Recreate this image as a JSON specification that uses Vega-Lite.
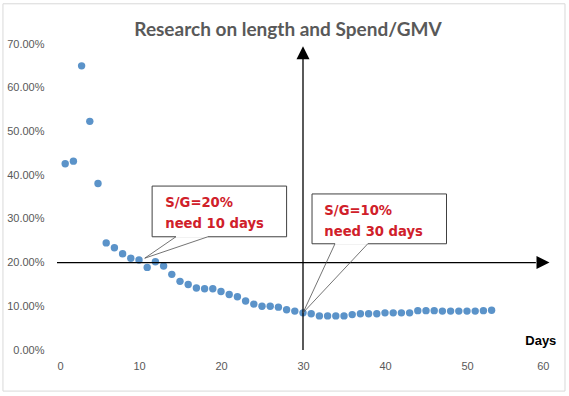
{
  "$schema": "https://vega.github.io/schema/vega-lite/v6.json",
  "autosize": {"type": "none"},
  "padding": {"left": 57, "top": 44, "right": 20, "bottom": 46},
  "width": 492,
  "height": 306,
  "background": "white",
  "config": {"view": {"stroke": null}},
  "title": {
    "text": "Research on length and Spend/GMV",
    "font": "Lato",
    "fontWeight": "bold",
    "fontSize": 19,
    "color": "#595959",
    "anchor": "middle",
    "frame": "group",
    "dx": -15,
    "offset": -56,
    "baseline": "bottom"
  },
  "datasets": {
    "pts": [
      {"day": 1, "sg": 0.426}, {"day": 2, "sg": 0.432}, {"day": 3, "sg": 0.650}, {"day": 4, "sg": 0.523},
      {"day": 5, "sg": 0.381}, {"day": 6, "sg": 0.245}, {"day": 7, "sg": 0.234}, {"day": 8, "sg": 0.220},
      {"day": 9, "sg": 0.210}, {"day": 10, "sg": 0.206}, {"day": 11, "sg": 0.189}, {"day": 12, "sg": 0.202},
      {"day": 13, "sg": 0.192}, {"day": 14, "sg": 0.173}, {"day": 15, "sg": 0.157}, {"day": 16, "sg": 0.150},
      {"day": 17, "sg": 0.142}, {"day": 18, "sg": 0.140}, {"day": 19, "sg": 0.140}, {"day": 20, "sg": 0.134},
      {"day": 21, "sg": 0.127}, {"day": 22, "sg": 0.122}, {"day": 23, "sg": 0.112}, {"day": 24, "sg": 0.105},
      {"day": 25, "sg": 0.100}, {"day": 26, "sg": 0.100}, {"day": 27, "sg": 0.098}, {"day": 28, "sg": 0.092},
      {"day": 29, "sg": 0.089}, {"day": 30, "sg": 0.085}, {"day": 31, "sg": 0.083}, {"day": 32, "sg": 0.078},
      {"day": 33, "sg": 0.078}, {"day": 34, "sg": 0.078}, {"day": 35, "sg": 0.078}, {"day": 36, "sg": 0.081},
      {"day": 37, "sg": 0.083}, {"day": 38, "sg": 0.083}, {"day": 39, "sg": 0.083}, {"day": 40, "sg": 0.085},
      {"day": 41, "sg": 0.085}, {"day": 42, "sg": 0.085}, {"day": 43, "sg": 0.085}, {"day": 44, "sg": 0.090},
      {"day": 45, "sg": 0.090}, {"day": 46, "sg": 0.090}, {"day": 47, "sg": 0.089}, {"day": 48, "sg": 0.089},
      {"day": 49, "sg": 0.089}, {"day": 50, "sg": 0.089}, {"day": 51, "sg": 0.089}, {"day": 52, "sg": 0.090},
      {"day": 53, "sg": 0.091}
    ],
    "frame": [{"x": -6.59, "x2": 61.95, "y": -0.094, "y2": 0.792}],
    "axes": [
      {"x": 30, "x2": 30, "y": 0, "y2": 0.666},
      {"x": 0, "x2": 58.4, "y": 0.2, "y2": 0.2}
    ],
    "heads": [
      {"x": 30, "y": 0.68, "dir": "up"},
      {"x": 59.27, "y": 0.2, "dir": "right"}
    ],
    "boxes": [
      {"x": 11.6, "x2": 28.0, "y": 0.259, "y2": 0.375},
      {"x": 31.1, "x2": 47.5, "y": 0.243, "y2": 0.357}
    ],
    "gaps": [
      {"x": 14.5, "x2": 18.4, "y": 0.259},
      {"x": 33.9, "x2": 37.9, "y": 0.243}
    ],
    "pointers": [
      {"x": 14.5, "y": 0.259, "x2": 10.7, "y2": 0.21},
      {"x": 18.4, "y": 0.259, "x2": 10.7, "y2": 0.21},
      {"x": 33.9, "y": 0.243, "x2": 30, "y2": 0.085},
      {"x": 37.9, "y": 0.243, "x2": 30, "y2": 0.085}
    ],
    "notes": [
      {"x": 13.2, "y": 0.336, "t": "S/G=20%"},
      {"x": 13.2, "y": 0.288, "t": "need 10 days"},
      {"x": 32.6, "y": 0.318, "t": "S/G=10%"},
      {"x": 32.6, "y": 0.270, "t": "need 30 days"}
    ],
    "lab": [{"x": 59.0, "y": 0.021, "t": "Days"}]
  },
  "layer": [
    {
      "data": {"name": "frame"},
      "mark": {"type": "rect", "fill": null, "stroke": "#d9d9d9", "strokeWidth": 1},
      "encoding": {
        "x": {"field": "x", "type": "quantitative"},
        "x2": {"field": "x2"},
        "y": {"field": "y", "type": "quantitative"},
        "y2": {"field": "y2"}
      }
    },
    {
      "data": {"name": "pts"},
      "mark": {"type": "point", "filled": true, "shape": "circle", "size": 55, "color": "#5b93c9", "opacity": 1},
      "encoding": {
        "x": {
          "field": "day", "type": "quantitative",
          "scale": {"domain": [0, 60], "nice": false},
          "axis": {
            "title": null, "values": [0, 10, 20, 30, 40, 50, 60], "domain": false, "ticks": false, "grid": false,
            "labelFont": "Liberation Sans", "labelFontSize": 11, "labelColor": "#595959", "labelPadding": 10
          }
        },
        "y": {
          "field": "sg", "type": "quantitative",
          "scale": {"domain": [0, 0.7], "nice": false},
          "axis": {
            "title": null, "values": [0, 0.1, 0.2, 0.3, 0.4, 0.5, 0.6, 0.7], "format": ".2%", "domain": false, "ticks": false, "grid": false,
            "labelFont": "Liberation Sans", "labelFontSize": 11, "labelColor": "#595959", "labelPadding": 13
          }
        }
      }
    },
    {
      "data": {"name": "axes"},
      "mark": {"type": "rule", "color": "black", "strokeWidth": 1.3},
      "encoding": {
        "x": {"field": "x", "type": "quantitative"},
        "x2": {"field": "x2"},
        "y": {"field": "y", "type": "quantitative"},
        "y2": {"field": "y2"}
      }
    },
    {
      "data": {"name": "heads"},
      "mark": {"type": "point", "filled": true, "size": 169, "color": "black", "opacity": 1},
      "encoding": {
        "x": {"field": "x", "type": "quantitative"},
        "y": {"field": "y", "type": "quantitative"},
        "shape": {
          "field": "dir", "type": "nominal",
          "scale": {"domain": ["up", "right"], "range": ["M0,-1L1,1L-1,1Z", "M1,0L-1,-1L-1,1Z"]},
          "legend": null
        }
      }
    },
    {
      "data": {"name": "boxes"},
      "mark": {"type": "rect", "fill": "white", "stroke": "#404040", "strokeWidth": 1},
      "encoding": {
        "x": {"field": "x", "type": "quantitative"},
        "x2": {"field": "x2"},
        "y": {"field": "y", "type": "quantitative"},
        "y2": {"field": "y2"}
      }
    },
    {
      "data": {"name": "gaps"},
      "mark": {"type": "rule", "color": "white", "strokeWidth": 2},
      "encoding": {
        "x": {"field": "x", "type": "quantitative"},
        "x2": {"field": "x2"},
        "y": {"field": "y", "type": "quantitative"}
      }
    },
    {
      "data": {"name": "pointers"},
      "mark": {"type": "rule", "color": "#505050", "strokeWidth": 0.8},
      "encoding": {
        "x": {"field": "x", "type": "quantitative"},
        "x2": {"field": "x2"},
        "y": {"field": "y", "type": "quantitative"},
        "y2": {"field": "y2"}
      }
    },
    {
      "data": {"name": "notes"},
      "mark": {"type": "text", "align": "left", "baseline": "middle", "font": "DejaVu Sans", "fontWeight": "bold", "fontSize": 13.2, "color": "#d0202a"},
      "encoding": {
        "x": {"field": "x", "type": "quantitative"},
        "y": {"field": "y", "type": "quantitative"},
        "text": {"field": "t"}
      }
    },
    {
      "data": {"name": "lab"},
      "mark": {"type": "text", "align": "center", "baseline": "middle", "font": "Liberation Sans", "fontWeight": "bold", "fontSize": 13, "color": "black"},
      "encoding": {
        "x": {"field": "x", "type": "quantitative"},
        "y": {"field": "y", "type": "quantitative"},
        "text": {"field": "t"}
      }
    }
  ]
}
